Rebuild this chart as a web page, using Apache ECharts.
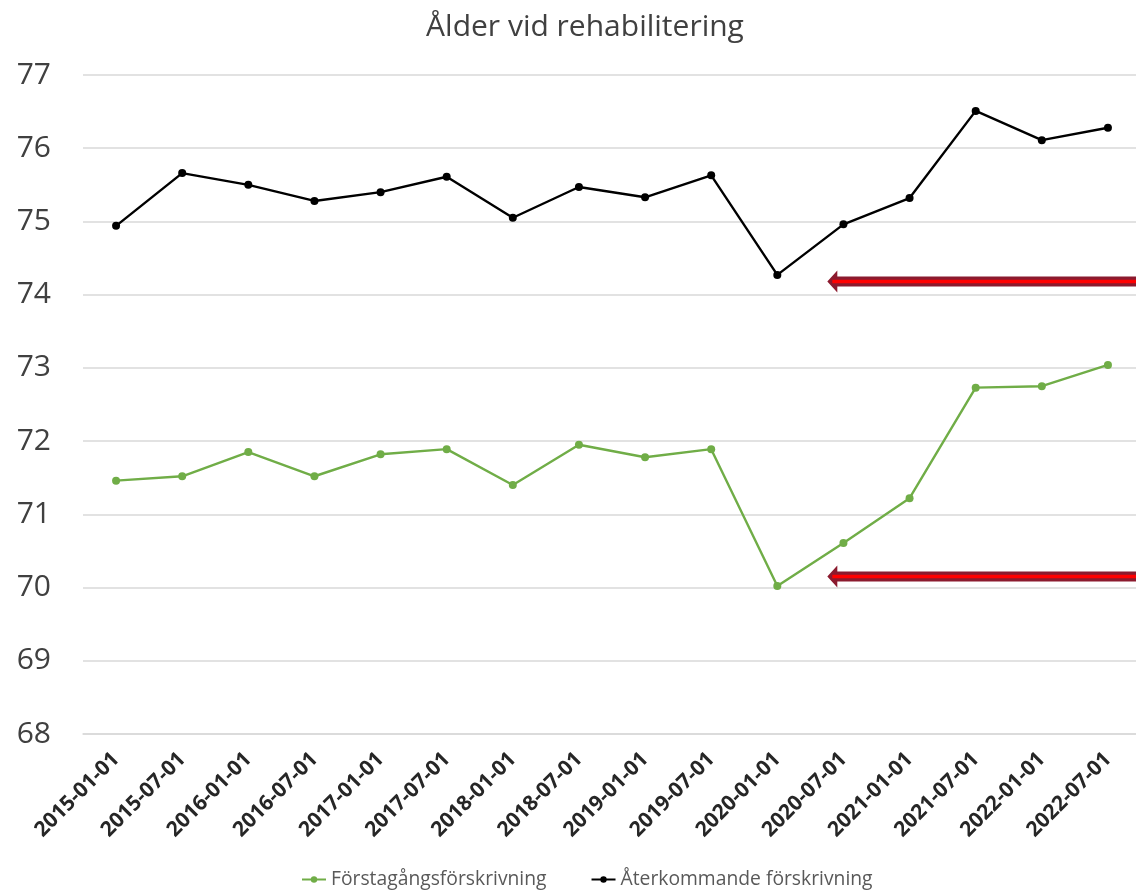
<!DOCTYPE html>
<html><head><meta charset="utf-8">
<script src="https://cdn.jsdelivr.net/npm/echarts@6/dist/echarts.min.js"></script>
<style>html,body{margin:0;padding:0;background:#fff;overflow:hidden;width:1136px;height:894px}#c{width:1141px;height:894px}</style>
</head><body><div id="c"></div>
<script>
const categories = ['2015-01-01','2015-07-01','2016-01-01','2016-07-01','2017-01-01','2017-07-01','2018-01-01','2018-07-01','2019-01-01','2019-07-01','2020-01-01','2020-07-01','2021-01-01','2021-07-01','2022-01-01','2022-07-01'];
const forstagang = [71.46,71.52,71.85,71.52,71.82,71.89,71.40,71.95,71.78,71.89,70.02,70.61,71.22,72.73,72.75,73.04];
const aterkommande = [74.94,75.66,75.50,75.28,75.40,75.61,75.05,75.47,75.33,75.63,74.27,74.96,75.32,76.51,76.11,76.28];
const arrowLevels = [74.18, 70.15];
const seriesNames = ['Förstagångsförskrivning','Återkommande förskrivning'];

const chart = echarts.init(document.getElementById('c'));
const font = '"Open Sans", "Liberation Sans", sans-serif';
chart.setOption({
  animation:false,
  title:{text:'Ålder vid rehabilitering',left:580,textAlign:'center',top:7,textStyle:{fontFamily:font,fontSize:30,fontWeight:'normal',color:'#404040'}},
  grid:{left:83,right:0,top:75,bottom:160,containLabel:false},
  legend:{bottom:0,left:296,itemWidth:24,itemHeight:8,itemGap:44,textStyle:{fontFamily:font,fontSize:19.3,color:'#595959'},data:seriesNames},
  xAxis:{type:'category',data:categories,boundaryGap:true,
    axisLine:{lineStyle:{color:'#d9d9d9',width:1.5}},axisTick:{show:false},
    axisLabel:{rotate:45,fontFamily:font,fontSize:21,fontWeight:'bold',color:'#262626',margin:22,interval:0}},
  yAxis:{type:'value',min:68,max:77,interval:1,
    axisLine:{show:false},axisTick:{show:false},
    splitLine:{lineStyle:{color:'#d9d9d9',width:1.5}},
    axisLabel:{fontFamily:font,fontSize:30,color:'#404040',margin:32}},
  series:[
    {name:seriesNames[0],type:'line',data:forstagang,color:'#70AD47',symbol:'circle',symbolSize:8,lineStyle:{width:2.4,color:'#70AD47'},itemStyle:{color:'#70AD47'}},
    {name:seriesNames[1],type:'line',data:aterkommande,color:'#000000',symbol:'circle',symbolSize:8,lineStyle:{width:2.4,color:'#000'},itemStyle:{color:'#000'}}
  ]
});
// arrows (annotations)
const els = [];
arrowLevels.forEach(v=>{
  const y = chart.convertToPixel({yAxisIndex:0}, v);
  const tipX = chart.convertToPixel({xAxisIndex:0}, categories[10]) + 50;
  const endX = 1145;
  els.push({type:'polygon',shape:{points:[[tipX,y],[tipX+10,y-11],[tipX+10,y-5],[endX,y-5],[endX,y+5],[tipX+10,y+5],[tipX+10,y+11]]},style:{fill:'#8B1A2E'}});
  els.push({type:'rect',shape:{x:tipX+5,y:y-1.8,width:endX-tipX,height:3.6},style:{fill:'#FF0000'}});
});
chart.setOption({graphic:els});
</script></body></html>
